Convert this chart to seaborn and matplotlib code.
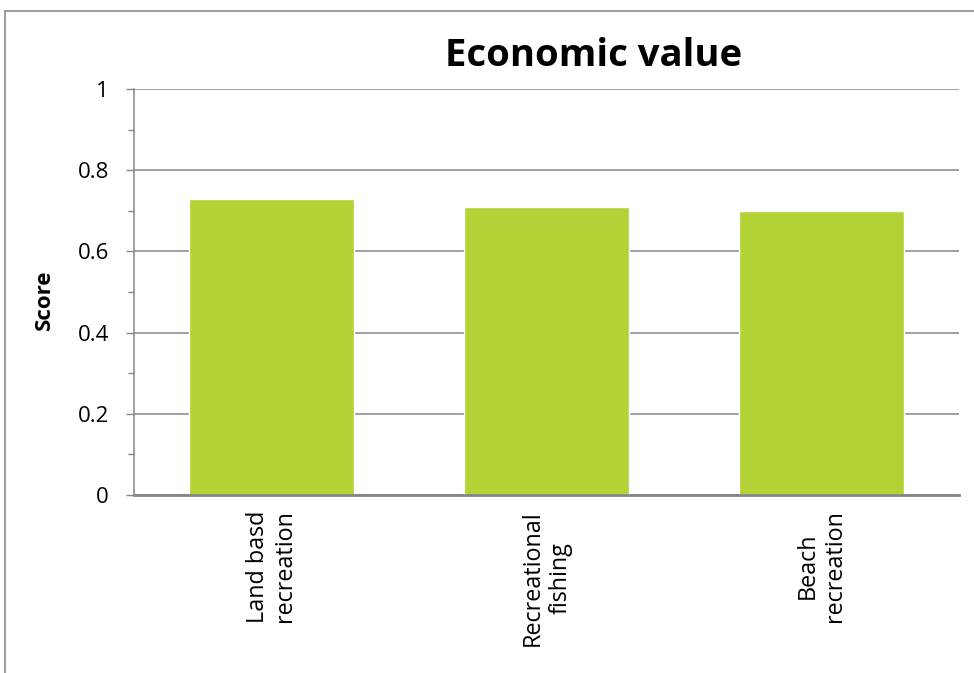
import matplotlib
matplotlib.use("Agg")
import matplotlib.pyplot as plt
from matplotlib.lines import Line2D
from matplotlib.ticker import MultipleLocator
import seaborn as sns
import pandas as pd

# Scores for each recreational use
categories = ["Land basd\nrecreation", "Recreational\nfishing", "Beach\nrecreation"]
scores = [0.73, 0.71, 0.70]
y_ticks = [0, 0.2, 0.4, 0.6, 0.8, 1]
y_tick_labels = ["0", "0.2", "0.4", "0.6", "0.8", "1"]

df = pd.DataFrame({"category": categories, "score": scores})

sns.set_style("white")
plt.rcParams["font.family"] = ["Open Sans", "DejaVu Sans"]
plt.rcParams["text.color"] = "black"
plt.rcParams["xtick.color"] = "black"
plt.rcParams["ytick.color"] = "black"

BAR_COLOR = "#b2d235"
GRID_COLOR = "#868686"

fig = plt.figure(figsize=(9.74, 6.73), dpi=100)
ax = fig.add_axes([0.1376, 0.2645, 0.9846 - 0.1376, 0.8678 - 0.2645])

sns.barplot(data=df, x="category", y="score", color=BAR_COLOR,
            saturation=1, width=0.6, ax=ax, zorder=3)

ax.set_ylim(0, 1)
ax.set_xlim(-0.5, len(categories) - 0.5)
ax.set_yticks(y_ticks)
ax.set_yticklabels(y_tick_labels, fontsize=16)
ax.yaxis.set_minor_locator(MultipleLocator(0.1))
ax.tick_params(axis="y", which="major", length=6, width=1, color=GRID_COLOR,
               labelcolor="black", pad=12, left=True)
ax.tick_params(axis="y", which="minor", length=4.5, width=1, color=GRID_COLOR,
               left=True)
ax.tick_params(axis="x", length=0, pad=11, labelcolor="black")

for lbl in ax.get_xticklabels():
    lbl.set_rotation(90)
    lbl.set_fontsize(16.8)
    lbl.set_multialignment("center")
    lbl.set_verticalalignment("top")
    lbl.set_horizontalalignment("center")
    lbl.set_linespacing(1.2)

ax.yaxis.grid(True, color=GRID_COLOR, linewidth=1.1, zorder=0)
ax.set_axisbelow(True)

for side in ("top", "right"):
    ax.spines[side].set_visible(False)
ax.spines["left"].set_color(GRID_COLOR)
ax.spines["left"].set_linewidth(1.1)
ax.spines["bottom"].set_color(GRID_COLOR)
ax.spines["bottom"].set_linewidth(2)
ax.spines["bottom"].set_zorder(4)

ax.set_xlabel("")
ax.set_ylabel("")
fig.text(44 / 974, 1 - 300 / 673, "Score", rotation=90, ha="center",
         va="center", fontsize=16, fontweight="bold", color="black")

fig.text(594 / 974, 1 - 56 / 673, "Economic value", ha="center", va="center",
         fontsize=27.5, fontweight="bold", color="black")

# Chart-area frame (top and left edges)
fig.add_artist(Line2D([5 / 974, 1.0], [1 - 11 / 673, 1 - 11 / 673],
                      transform=fig.transFigure, color="#8a8a8a", linewidth=1.2))
fig.add_artist(Line2D([5 / 974, 5 / 974], [0.0, 1 - 11 / 673],
                      transform=fig.transFigure, color="#8a8a8a", linewidth=1.2))

fig.savefig("out.png", dpi=100)
